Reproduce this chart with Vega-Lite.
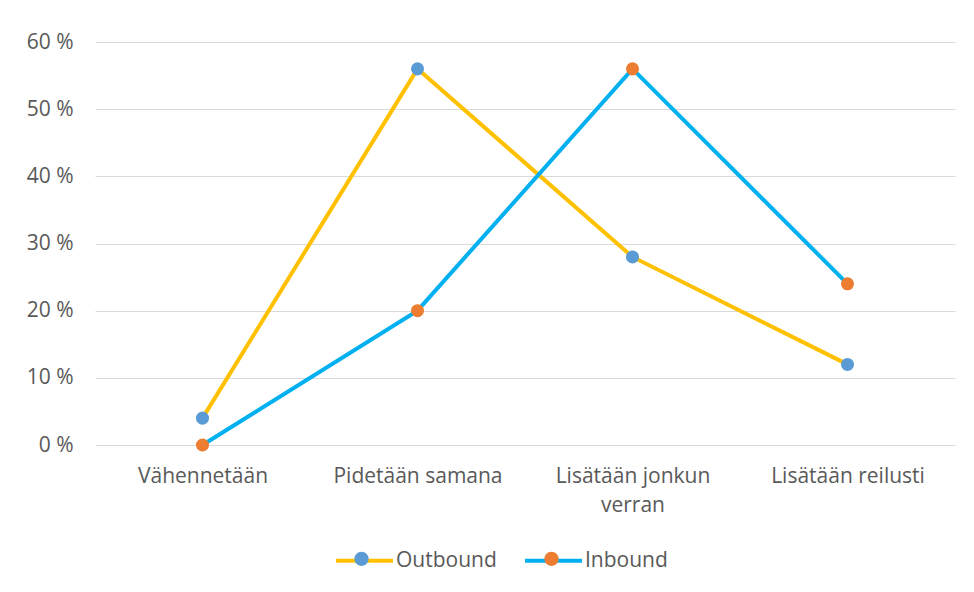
{
  "$schema": "https://vega.github.io/schema/vega-lite/v6.json",
  "width": 860,
  "height": 403,
  "autosize": {"type": "none"},
  "padding": {"left": 95, "top": 42, "right": 19, "bottom": 147},
  "background": "white",
  "config": {
    "view": {"stroke": null},
    "font": "Open Sans",
    "axis": {
      "labelFont": "Open Sans",
      "labelFontSize": 21,
      "labelColor": "#595959",
      "domain": false,
      "ticks": false
    },
    "legend": {
      "labelFont": "Open Sans",
      "labelFontSize": 21,
      "labelColor": "#595959"
    }
  },
  "data": {
    "values": [
      {"category": "Vähennetään", "series": "Outbound", "share": 4},
      {"category": "Pidetään samana", "series": "Outbound", "share": 56},
      {"category": "Lisätään jonkun verran", "series": "Outbound", "share": 28},
      {"category": "Lisätään reilusti", "series": "Outbound", "share": 12},
      {"category": "Vähennetään", "series": "Inbound", "share": 0},
      {"category": "Pidetään samana", "series": "Inbound", "share": 20},
      {"category": "Lisätään jonkun verran", "series": "Inbound", "share": 56},
      {"category": "Lisätään reilusti", "series": "Inbound", "share": 24}
    ]
  },
  "encoding": {
    "x": {
      "field": "category",
      "type": "nominal",
      "sort": ["Vähennetään", "Pidetään samana", "Lisätään jonkun verran", "Lisätään reilusti"],
      "scale": {"type": "point", "padding": 0.5},
      "axis": {
        "title": null,
        "labelAngle": 0,
        "labelPadding": 20,
        "labelLineHeight": 29,
        "labelExpr": "datum.label == 'Lisätään jonkun verran' ? ['Lisätään jonkun', 'verran'] : datum.label",
        "grid": false
      }
    },
    "y": {
      "field": "share",
      "type": "quantitative",
      "scale": {"domain": [0, 60], "nice": false},
      "axis": {
        "title": null,
        "values": [0, 10, 20, 30, 40, 50, 60],
        "labelExpr": "datum.value + ' %'",
        "labelPadding": 22,
        "grid": true,
        "gridColor": "#d9d9d9",
        "gridWidth": 1
      }
    }
  },
  "layer": [
    {
      "mark": {"type": "line", "strokeWidth": 4},
      "encoding": {
        "stroke": {
          "field": "series",
          "type": "nominal",
          "sort": ["Outbound", "Inbound"],
          "scale": {"range": ["#FFC000", "#00B0F0"]},
          "legend": {
            "title": null,
            "orient": "none",
            "direction": "horizontal",
            "legendX": 239,
            "legendY": 488,
            "symbolType": "stroke",
            "symbolSize": 3249,
            "symbolStrokeWidth": 4,
            "labelOffset": 1,
            "columnPadding": 20
          }
        }
      }
    },
    {
      "mark": {"type": "point", "filled": true, "size": 170, "opacity": 1},
      "encoding": {
        "fill": {
          "field": "series",
          "type": "nominal",
          "scale": {"domain": ["Outbound", "Inbound"], "range": ["#5B9BD5", "#ED7D31"]},
          "legend": {
            "title": null,
            "orient": "none",
            "direction": "horizontal",
            "legendX": 238,
            "legendY": 488,
            "symbolType": "M-0.25,0A0.25,0.25,0,1,1,0.25,0A0.25,0.25,0,1,1,-0.25,0Z",
            "symbolSize": 3249,
            "symbolStrokeWidth": 0,
            "symbolOpacity": 1,
            "labelOffset": 1,
            "labelExpr": "''",
            "columnPadding": 132
          }
        }
      }
    }
  ]
}
